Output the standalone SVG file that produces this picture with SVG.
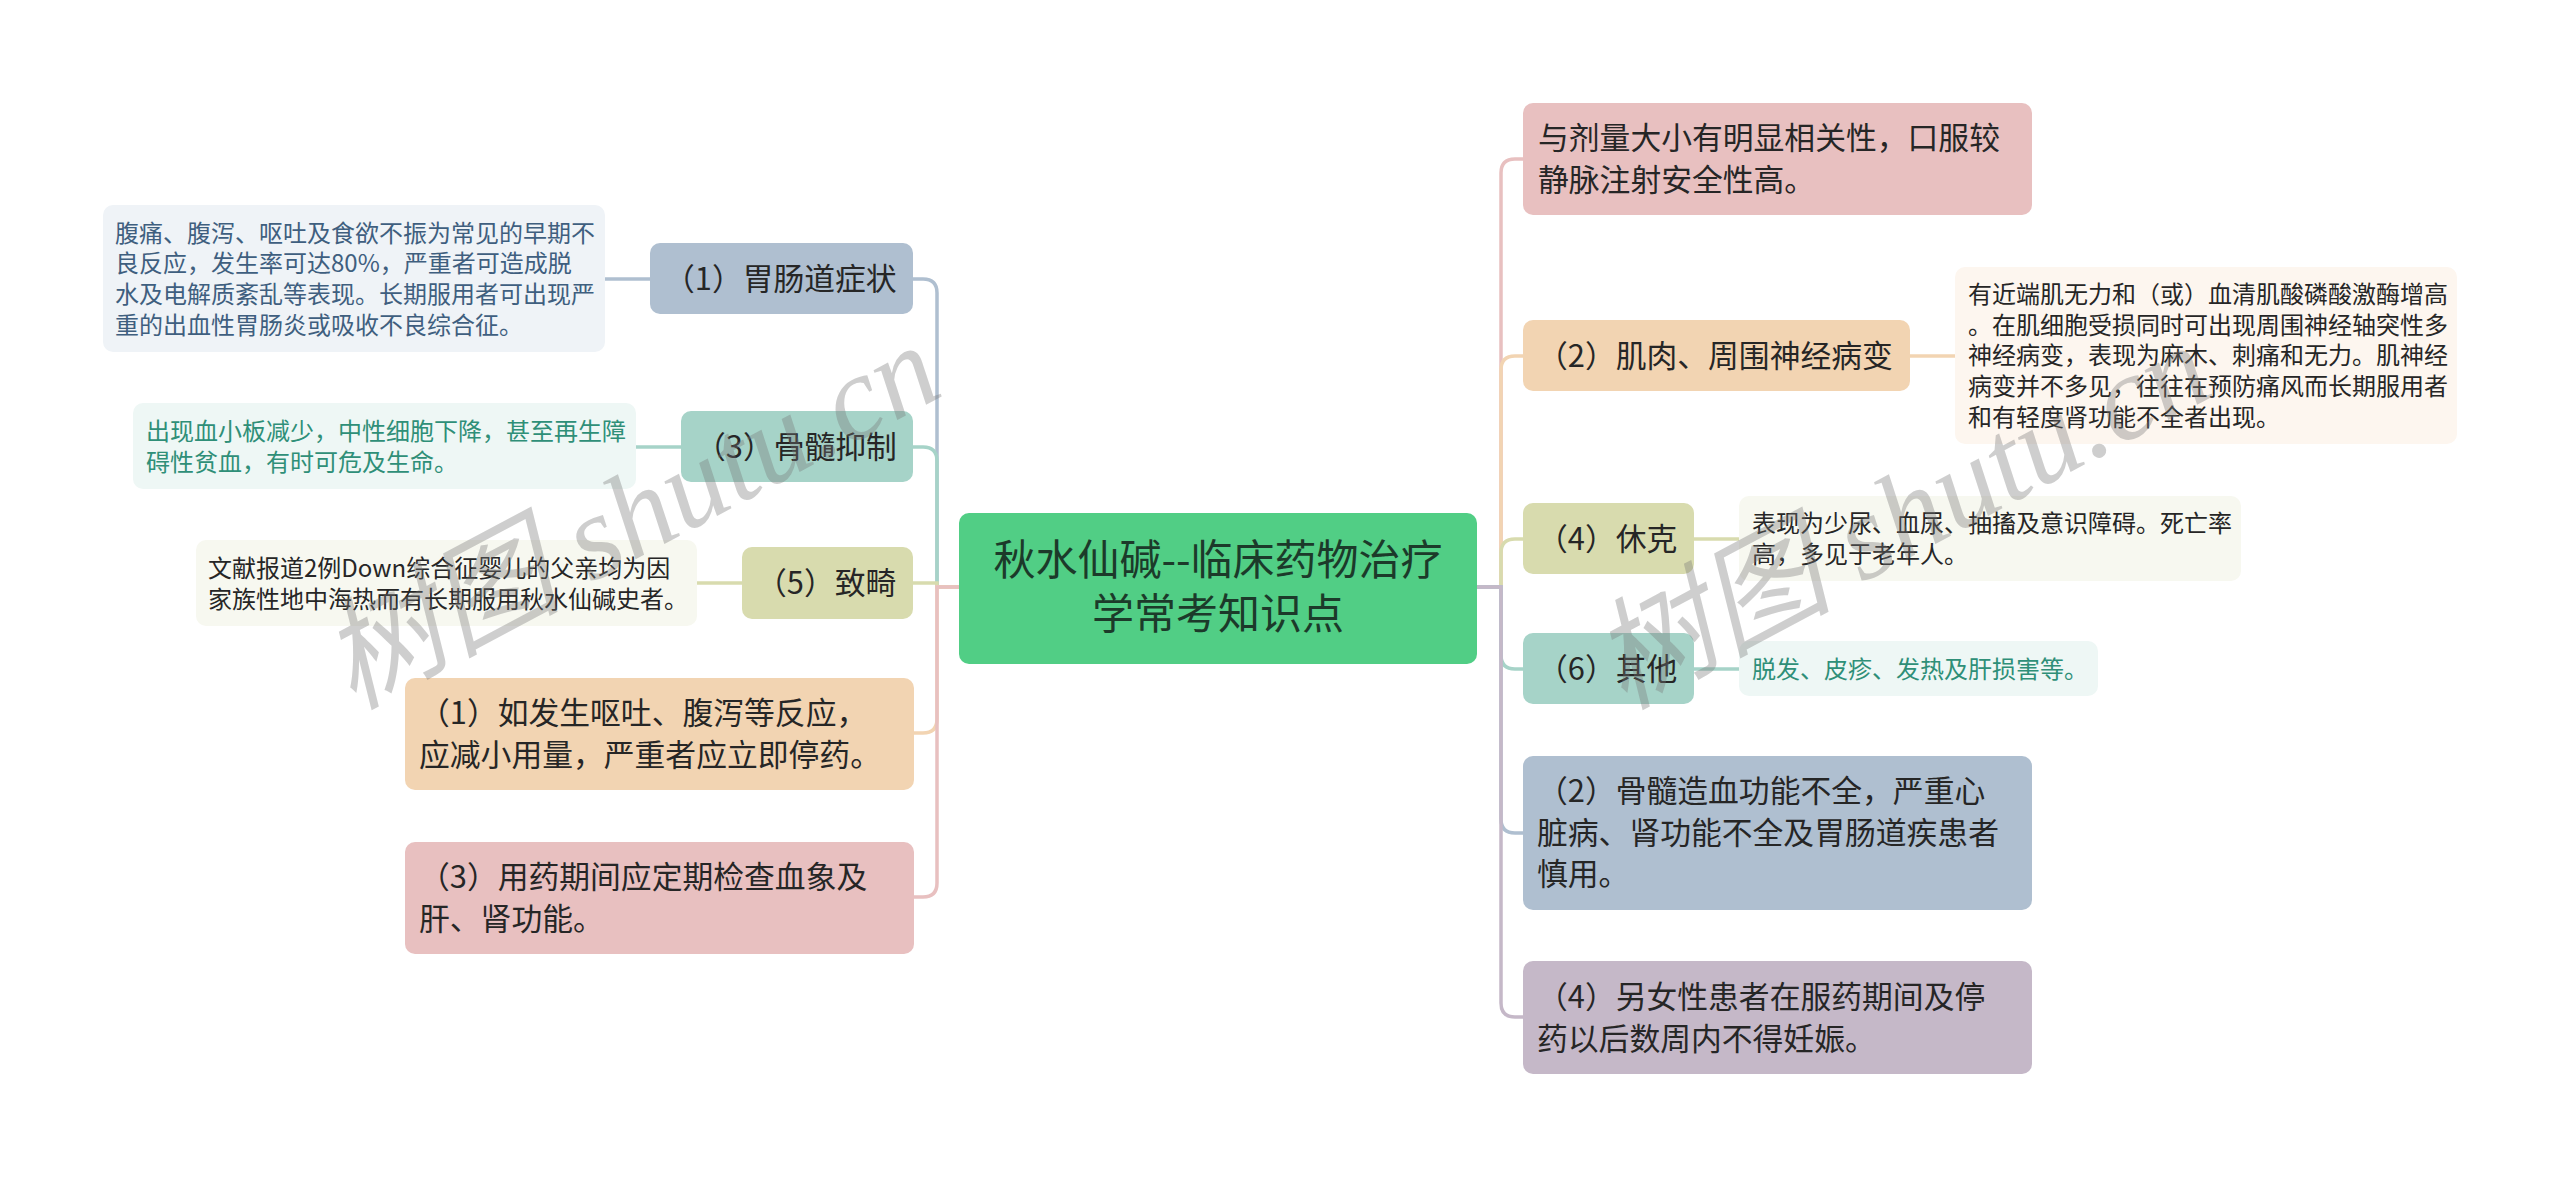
<svg xmlns="http://www.w3.org/2000/svg" width="2560" height="1177" viewBox="0 0 2560 1177">
<style>
text{font-family:"Noto Sans CJK SC","Liberation Sans",sans-serif;fill:#262626}
.c{font-size:30.8px}
.d{font-size:24px}
.m{font-size:42px;text-anchor:middle;fill:#1c3a2a}
.blue{fill:#3f5f7f}
.green{fill:#2f8f78}
.ln{fill:none;stroke-width:3.5}
.wm{font-family:"Liberation Serif","Noto Sans CJK SC",serif;font-style:italic;font-size:120px;fill:#777;fill-opacity:.36}
</style>
<rect width="2560" height="1177" fill="#fff"/>
<g id="connectors">
<path class="ln" stroke="#AFBFD0" d="M959 587H937V293Q937 279 923 279H913"/>
<path class="ln" stroke="#A6D3C8" d="M959 587H937V461Q937 447 923 447H913"/>
<path class="ln" stroke="#D8DBAE" d="M959 587H937V583H913"/>
<path class="ln" stroke="#F2D4B2" d="M959 587H937V719Q937 733 923 733H913"/>
<path class="ln" stroke="#E8C0C0" d="M959 587H937V883Q937 897 923 897H913"/>
<path class="ln" stroke="#E8C0C0" d="M1477 587H1501V173Q1501 159 1515 159H1523"/>
<path class="ln" stroke="#F2D4B2" d="M1477 587H1501V370Q1501 356 1515 356H1523"/>
<path class="ln" stroke="#D8DBAE" d="M1477 587H1501V553Q1501 539 1515 539H1523"/>
<path class="ln" stroke="#A6D3C8" d="M1477 587H1501V655Q1501 669 1515 669H1523"/>
<path class="ln" stroke="#AFBFD0" d="M1477 587H1501V819Q1501 833 1515 833H1523"/>
<path class="ln" stroke="#C5B8C8" d="M1477 587H1501V1003Q1501 1017 1515 1017H1523"/>
<path class="ln" stroke="#AFBFD0" d="M650 279H605"/>
<path class="ln" stroke="#A6D3C8" d="M681 447H636"/>
<path class="ln" stroke="#D8DBAE" d="M742 583H697"/>
<path class="ln" stroke="#F2D4B2" d="M1910 356H1955"/>
<path class="ln" stroke="#D8DBAE" d="M1694 539H1739"/>
<path class="ln" stroke="#A6D3C8" d="M1694 669H1739"/>
</g>
<g id="root"><rect x="959" y="513" width="518" height="151" rx="10" fill="#51CE85"/><text class="m" x="1218" y="575">秋水仙碱--临床药物治疗</text><text class="m" x="1218" y="629">学常考知识点</text></g>
<g id="l1"><rect x="650" y="243" width="263" height="71" rx="10" fill="#AFBFD0"/><text class="c" x="664" y="290">（1）胃肠道症状</text></g>
<g id="l1d"><rect x="103" y="205" width="502" height="147" rx="10" fill="#EFF3F7"/><text class="d blue" x="115" y="242">腹痛、腹泻、呕吐及食欲不振为常见的早期不</text><text class="d blue" x="115" y="272">良反应，发生率可达80%，严重者可造成脱</text><text class="d blue" x="115" y="303">水及电解质紊乱等表现。长期服用者可出现严</text><text class="d blue" x="115" y="334">重的出血性胃肠炎或吸收不良综合征。</text></g>
<g id="l3"><rect x="681" y="411" width="232" height="71" rx="10" fill="#A6D3C8"/><text class="c" x="695" y="458">（3）骨髓抑制</text></g>
<g id="l3d"><rect x="133" y="403" width="503" height="86" rx="10" fill="#EEF7F5"/><text class="d green" x="146" y="440">出现血小板减少，中性细胞下降，甚至再生障</text><text class="d green" x="146" y="471">碍性贫血，有时可危及生命。</text></g>
<g id="l5"><rect x="742" y="547" width="171" height="72" rx="10" fill="#D8DBAE"/><text class="c" x="756" y="594">（5）致畸</text></g>
<g id="l5d"><rect x="196" y="540" width="501" height="86" rx="10" fill="#F7F8F0"/><text class="d" x="208" y="577">文献报道2例Down综合征婴儿的父亲均为因</text><text class="d" x="208" y="608">家族性地中海热而有长期服用秋水仙碱史者。</text></g>
<g id="l7"><rect x="405" y="678" width="509" height="112" rx="10" fill="#F2D4B2"/><text class="c" x="419" y="724">（1）如发生呕吐、腹泻等反应，</text><text class="c" x="419" y="766">应减小用量，严重者应立即停药。</text></g>
<g id="l8"><rect x="405" y="842" width="509" height="112" rx="10" fill="#E8C0C0"/><text class="c" x="419" y="888">（3）用药期间应定期检查血象及</text><text class="c" x="419" y="930">肝、肾功能。</text></g>
<g id="r1"><rect x="1523" y="103" width="509" height="112" rx="10" fill="#E8C0C0"/><text class="c" x="1538" y="149">与剂量大小有明显相关性，口服较</text><text class="c" x="1538" y="191">静脉注射安全性高。</text></g>
<g id="r2"><rect x="1523" y="320" width="387" height="71" rx="10" fill="#F2D4B2"/><text class="c" x="1537" y="367">（2）肌肉、周围神经病变</text></g>
<g id="r2d"><rect x="1955" y="267" width="502" height="177" rx="10" fill="#FDF6EF"/><text class="d" x="1968" y="303">有近端肌无力和（或）血清肌酸磷酸激酶增高</text><text class="d" x="1968" y="334">。在肌细胞受损同时可出现周围神经轴突性多</text><text class="d" x="1968" y="364">神经病变，表现为麻木、刺痛和无力。肌神经</text><text class="d" x="1968" y="395">病变并不多见，往往在预防痛风而长期服用者</text><text class="d" x="1968" y="426">和有轻度肾功能不全者出现。</text></g>
<g id="r4"><rect x="1523" y="503" width="171" height="71" rx="10" fill="#D8DBAE"/><text class="c" x="1537" y="550">（4）休克</text></g>
<g id="r4d"><rect x="1739" y="496" width="502" height="85" rx="10" fill="#F7F8F0"/><text class="d" x="1752" y="532">表现为少尿、血尿、抽搐及意识障碍。死亡率</text><text class="d" x="1752" y="563">高，多见于老年人。</text></g>
<g id="r6"><rect x="1523" y="633" width="171" height="71" rx="10" fill="#A6D3C8"/><text class="c" x="1537" y="680">（6）其他</text></g>
<g id="r6d"><rect x="1739" y="641" width="359" height="55" rx="10" fill="#EEF7F5"/><text class="d green" x="1752" y="678">脱发、皮疹、发热及肝损害等。</text></g>
<g id="r7"><rect x="1523" y="756" width="509" height="154" rx="10" fill="#AFBFD0"/><text class="c" x="1537" y="802">（2）骨髓造血功能不全，严重心</text><text class="c" x="1537" y="844">脏病、肾功能不全及胃肠道疾患者</text><text class="c" x="1537" y="885">慎用。</text></g>
<g id="r8"><rect x="1523" y="961" width="509" height="113" rx="10" fill="#C5B8C8"/><text class="c" x="1537" y="1008">（4）另女性患者在服药期间及停</text><text class="c" x="1537" y="1050">药以后数周内不得妊娠。</text></g>
<text class="wm" transform="translate(352 710) rotate(-28)">树图 shutu.cn</text>
<text class="wm" transform="translate(1623 710) rotate(-28)">树图 shutu.cn</text>
</svg>
